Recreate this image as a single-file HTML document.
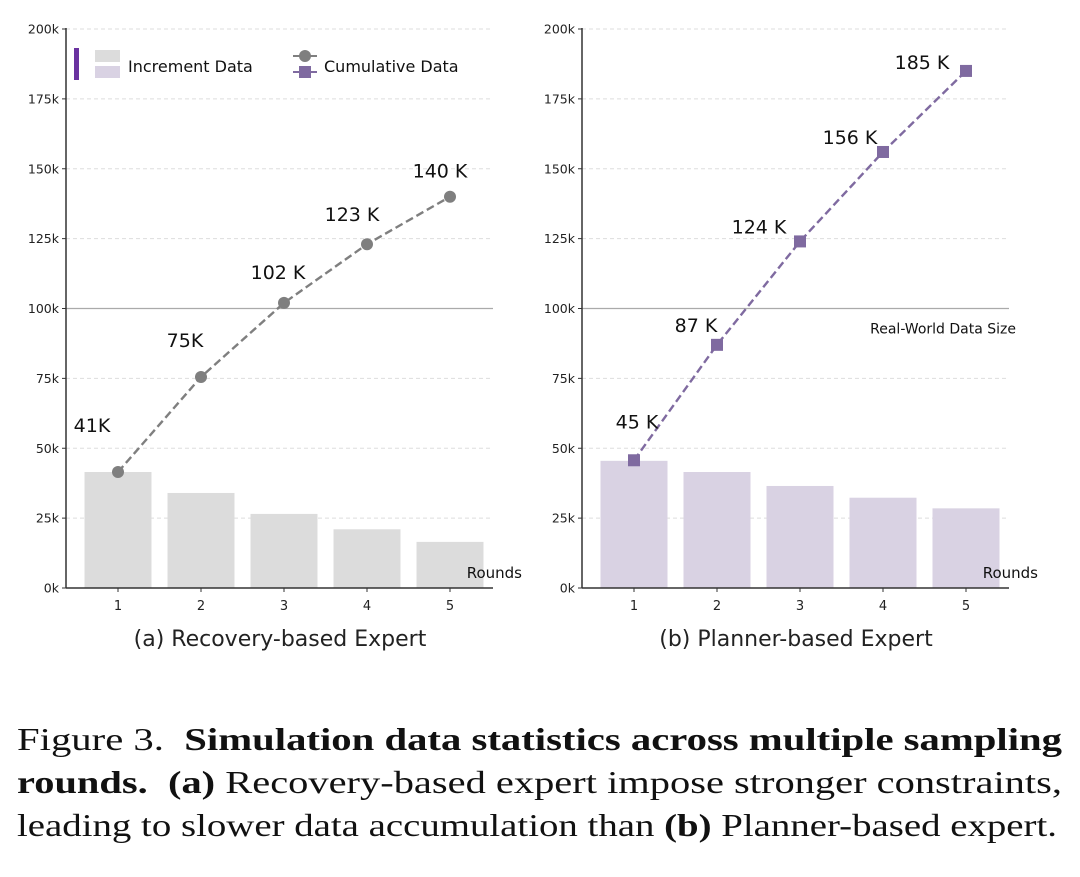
<!DOCTYPE html>
<html><head><meta charset="utf-8"><style>
body{margin:0;background:#fff;width:1080px;height:877px;overflow:hidden;position:relative}
svg{position:absolute;left:0;top:0}
</style></head><body>
<svg id="chart" width="1080" height="700" font-family="'DejaVu Sans','Liberation Sans',sans-serif"></svg>
<svg id="cap" width="1080" height="877" font-family="'Liberation Serif',serif" font-size="32" fill="#111" style="pointer-events:none">
<text x="17" y="750" textLength="1045" lengthAdjust="spacingAndGlyphs">Figure 3.&#160; <tspan font-weight="bold">Simulation data statistics across multiple sampling</tspan></text>
<text x="17" y="793" textLength="1045" lengthAdjust="spacingAndGlyphs"><tspan font-weight="bold">rounds.</tspan>&#160; <tspan font-weight="bold">(a)</tspan> Recovery-based expert impose stronger constraints,</text>
<text x="17" y="836" textLength="1040" lengthAdjust="spacingAndGlyphs">leading to slower data accumulation than <tspan font-weight="bold">(b)</tspan> Planner-based expert.</text>
</svg>
<script>
const rounds=[1,2,3,4,5];
const yTicks=[0,25,50,75,100,125,150,175,200];
const incA=[41.5,34,26.5,21,16.5];
const cumA=[41.5,75.5,102,123,140];
const labA=["41K","75K","102 K","123 K","140 K"];
const incB=[45.5,41.5,36.5,32.3,28.5];
const cumB=[45.7,87,124,156,185];
const labB=["45 K","87 K","124 K","156 K","185 K"];
const NS="http://www.w3.org/2000/svg";
const svg=document.getElementById('chart');
function mk(t,a,p){const e=document.createElementNS(NS,t);for(const k in a)e.setAttribute(k,a[k]);(p||svg).appendChild(e);return e;}
const Y0=588,PX=559/200;
const y=v=>Y0-v*PX;
function panel(ax,inc,cum,lab,barCol,lineCol,square,title,labOff,realWorld){
  const x=r=>ax+52+(r-1)*83;
  const g=mk('g',{});
  
  
  yTicks.forEach(t=>{
    if(t>0&&t!==100){const l=mk('line',{x1:ax,x2:ax+427,y1:y(t),y2:y(t),stroke:'#ddd','stroke-dasharray':'4,3'},g);
    }
    mk('line',{x1:ax-4,x2:ax,y1:y(t),y2:y(t),stroke:'#333'},g);
    const tx=mk('text',{x:ax-7,y:y(t)+4.5,'text-anchor':'end','font-size':12.5,fill:'#222'},g);tx.textContent=t+'k';
    
  });
  const rl=mk('line',{x1:ax,x2:ax+427,y1:y(100),y2:y(100),stroke:'#aaa','stroke-width':1.2},g);
  
  if(realWorld){const t=mk('text',{x:ax+434,y:y(100)+25,'text-anchor':'end','font-size':14,fill:'#111'},g);t.textContent='Real-World Data Size';
    }
  rounds.forEach((r,i)=>{
    const b=mk('rect',{x:x(r)-33.5,y:y(inc[i]),width:67,height:inc[i]*PX,fill:barCol},g);
    
    mk('line',{x1:x(r),x2:x(r),y1:Y0,y2:Y0+4,stroke:'#333'},g);
    const t=mk('text',{x:x(r),y:Y0+22,'text-anchor':'middle','font-size':13,fill:'#222'},g);t.textContent=r;
    
  });
  mk('line',{x1:ax,x2:ax,y1:y(200)-1,y2:Y0,stroke:'#333','stroke-width':1.5},g);
  mk('line',{x1:ax,x2:ax+427,y1:Y0,y2:Y0,stroke:'#333','stroke-width':1.5},g);
  const rt=mk('text',{x:ax+456,y:Y0-10,'text-anchor':'end','font-size':15,fill:'#111'},g);rt.textContent='Rounds';
  
  const pl=mk('polyline',{points:rounds.map((r,i)=>x(r)+','+y(cum[i])).join(' '),fill:'none',stroke:lineCol,'stroke-width':2.4,'stroke-dasharray':'8,4'},g);
  
  rounds.forEach((r,i)=>{
    let m;
    if(square)m=mk('rect',{x:x(r)-6,y:y(cum[i])-6,width:12,height:12,fill:lineCol},g);
    else m=mk('circle',{cx:x(r),cy:y(cum[i]),r:6,fill:lineCol},g);
    
    const t=mk('text',{x:x(r)+labOff[i][0],y:y(cum[i])+labOff[i][1],'text-anchor':'middle','font-size':19,fill:'#111'},g);t.textContent=lab[i];
    
  });
  const tt=mk('text',{x:ax+214,y:646,'text-anchor':'middle','font-size':22,fill:'#222'},g);tt.textContent=title;
  
}
panel(66,incA,cumA,labA,'#dcdcdc','#7f7f7f',false,'(a) Recovery-based Expert',[[-26,-40],[-16,-30],[-6,-24],[-15,-23],[-10,-19]],false);
panel(582,incB,cumB,labB,'#d9d2e3','#7f6aa0',true,'(b) Planner-based Expert',[[3,-32],[-21,-13],[-41,-8],[-33,-8],[-44,-2]],true);
const lg=mk('g',{});

mk('rect',{x:74,y:48,width:5,height:32,fill:'#6a32a0'},lg);
mk('rect',{x:95,y:50,width:25,height:12,fill:'#dcdcdc'},lg);
mk('rect',{x:95,y:66,width:25,height:12,fill:'#d9d2e3'},lg);
let t=mk('text',{x:128,y:72,'font-size':16,fill:'#111'},lg);t.textContent='Increment Data';
mk('line',{x1:293,x2:317,y1:56,y2:56,stroke:'#7f7f7f','stroke-width':2},lg);
mk('circle',{cx:305,cy:56,r:6,fill:'#7f7f7f'},lg);
mk('line',{x1:293,x2:317,y1:72,y2:72,stroke:'#7f6aa0','stroke-width':2},lg);
mk('rect',{x:299,y:66,width:12,height:12,fill:'#7f6aa0'},lg);
t=mk('text',{x:324,y:72,'font-size':16,fill:'#111'},lg);t.textContent='Cumulative Data';
</script>
</body></html>
